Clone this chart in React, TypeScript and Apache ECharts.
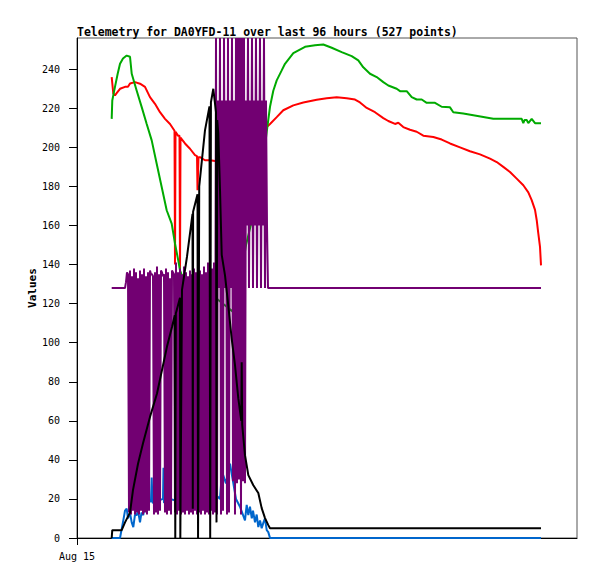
import React, { useEffect, useRef } from "react";
import * as echarts from "echarts";

// Time in hours since Aug 15 00:00
const X_MAX_HOURS = 111.11;
const Y_TICKS = [0, 20, 40, 60, 80, 100, 120, 140, 160, 180, 200, 220, 240];
const X_TICKS = [0];
const X_TICK_LABEL = "Aug 15";
const TITLE = "Telemetry for DA0YFD-11 over last 96 hours (527 points)";

const red: [number, number][] = [
  [7.71, 236], [8.07, 227.5], [8.44, 226.6], [8.89, 228], [9.56, 230], [10.67, 231],
  [11.33, 231], [11.78, 232.7], [12.89, 233.4], [14.0, 232.6], [15.11, 231], [16.22, 225.7],
  [17.33, 222.3], [18.44, 218], [19.56, 214.6], [20.67, 212], [21.67, 208.5], [21.78, 140],
  [21.89, 208], [22.44, 206], [22.78, 206], [22.89, 136], [23.0, 205], [24.0, 202],
  [25.11, 199.3], [26.22, 196], [26.67, 195.5], [26.78, 178], [27.0, 195], [27.33, 195],
  [28.44, 193.4], [29.56, 193.4], [30.67, 193], [36.22, 195], [39.56, 202], [42.16, 210.4],
  [42.89, 212], [44.38, 215.5], [45.84, 219], [48.07, 221.5], [50.29, 223], [53.27, 224.4],
  [55.49, 225.2], [57.71, 225.7], [59.93, 225.2], [61.78, 224.5], [62.89, 223], [64.38, 220.2],
  [66.22, 218], [68.07, 215], [69.18, 213.5], [70.67, 212], [71.4, 212.6], [72.51, 210.4],
  [74.0, 209], [75.49, 208], [76.96, 206], [79.18, 205.3], [81.04, 204], [82.89, 202],
  [85.11, 200], [87.33, 198], [89.56, 196.4], [91.78, 194.2], [93.27, 192.5], [94.73, 190],
  [96.22, 187.4], [97.71, 184], [99.18, 180.6], [100.29, 177], [101.04, 173], [101.78, 168],
  [102.16, 162.7], [102.51, 156], [102.89, 149], [103.11, 139.6],
];

const green: [number, number][] = [
  [7.71, 214.6], [7.84, 224], [8.44, 231], [9.04, 237.7], [9.56, 242.8], [10.22, 245.5],
  [11.04, 247], [11.78, 246.4], [12.16, 237.7], [13.27, 229], [14.38, 220.6], [15.49, 212],
  [16.6, 203.6], [17.71, 191.6], [18.82, 179.7], [19.93, 167.8], [21.04, 161], [21.78, 150.7],
  [22.51, 142], [22.89, 137], [24.0, 130], [26.22, 127], [27.11, 127], [27.22, 75],
  [27.44, 127], [31.33, 122], [35.11, 115], [37.56, 150], [40.67, 180], [42.16, 207.9],
  [42.89, 220.8], [43.62, 229], [44.38, 234.3], [45.49, 239.4], [46.22, 242.8], [48.07, 248.3],
  [50.67, 251.5], [52.89, 252.3], [54.73, 252.7], [56.6, 251], [58.82, 248.8], [61.04, 246.7],
  [62.51, 244.5], [63.62, 241], [65.11, 237.7], [66.6, 236], [68.07, 233.4], [69.18, 231.7],
  [71.04, 230], [71.78, 228.8], [73.27, 228.8], [74.38, 225.7], [75.49, 224.5], [76.6, 224.5],
  [77.71, 222.8], [79.56, 222.8], [81.04, 220.8], [82.89, 220.5], [83.62, 218], [85.84, 217.3],
  [88.07, 216.4], [90.29, 215.5], [92.51, 214.6], [95.49, 214.6], [98.82, 214.6], [99.18, 212.4],
  [99.44, 214], [99.93, 214], [100.29, 212.4], [101.04, 214.6], [101.78, 212.4], [103.11, 212.4],
];

const blue: [number, number][] = [
  [7.71, 0], [9.56, 0], [10.29, 9], [10.67, 14], [11.04, 15], [11.33, 10], [11.78, 12.7],
  [12.16, 8], [12.51, 5.6], [12.89, 12], [13.27, 11.7], [13.56, 14], [14.0, 8], [14.33, 13],
  [14.73, 11.7], [15.11, 17], [15.78, 18], [16.44, 19], [16.6, 31], [16.78, 18], [17.98, 19],
  [19.11, 20], [19.22, 36], [19.33, 18], [20.67, 20], [22.22, 19], [22.38, 49], [22.51, 18],
  [24.0, 19], [26.22, 20], [26.29, 32], [26.44, 18], [27.22, 19], [27.29, 70], [27.4, 18],
  [29.56, 19], [30.0, 24], [31.78, 20], [32.22, 34], [33.11, 28], [34.0, 38], [35.33, 20],
  [36.22, 16], [37.33, 9], [37.71, 17], [38.07, 11.7], [38.44, 16], [38.84, 10], [39.11, 14],
  [39.56, 8], [39.93, 12], [40.29, 5.6], [40.67, 9], [41.04, 5], [41.44, 8], [41.78, 10],
  [42.16, 4], [42.51, 3], [42.89, 0], [103.11, 0],
];

const black: [number, number][] = [
  [7.71, 0], [7.84, 4], [9.93, 4], [10.67, 8], [11.78, 13], [12.44, 24.5], [13.56, 38],
  [14.67, 48.5], [16.22, 62], [17.78, 74], [18.89, 86], [20.0, 98], [21.11, 108], [21.73, 114],
  [21.84, 0], [21.96, 115], [22.89, 123], [22.96, 0], [23.1, 0], [23.33, 127], [24.44, 144],
  [25.67, 166], [25.73, 15], [25.8, 167], [26.78, 176], [26.9, 0], [27.16, 180], [28.44, 208.7],
  [29.44, 221], [29.6, 0], [29.76, 223], [30.29, 230], [30.89, 218], [31.0, 8], [31.16, 214],
  [31.4, 207], [31.78, 178], [32.16, 145], [32.89, 134.5], [33.62, 119], [34.38, 102],
  [35.11, 88.5], [35.84, 71.6], [36.51, 60], [36.6, 90], [36.71, 58], [37.33, 42.4],
  [38.07, 32.2], [39.18, 27], [40.29, 23], [41.04, 15.3], [41.78, 10.2], [42.51, 6.6],
  [42.89, 5], [103.11, 5],
];

// Purple channel: flat 128 before and after the oscillating section
const purpleHead: [number, number] = [7.71, 128];
const purpleTail: [number, number] = [103.11, 128];
const purpleStartHour = 10.667;
const purpleStepHour = 0.2222;
const purpleValues = [
  128, 131, 136, 135, 13, 137, 12, 134, 14, 138, 12, 136, 13, 133, 12, 137, 14, 135, 12, 138,
  13, 134, 12, 136, 14, 137, 135, 135, 134, 12, 136, 13, 139, 12, 135, 14, 137, 136, 134, 135,
  13, 138, 12, 136, 14, 133, 12, 137, 136, 135, 13, 141, 12, 136, 14, 138, 12, 135, 13, 139,
  12, 136, 14, 134, 12, 137, 13, 135, 12, 138, 14, 136, 12, 140, 13, 137, 12, 135, 14, 139,
  12, 136, 13, 141, 12, 137, 14, 138, 12, 141, 13, 256, 12, 224, 128, 256, 12, 224, 14, 256,
  128, 224, 12, 256, 13, 224, 128, 256, 29, 224, 12, 256, 28, 256, 30, 256, 12, 256, 29, 256,
  28, 224, 160, 256, 128, 224, 160, 256, 128, 224, 160, 256, 128, 224, 160, 256, 128, 224, 160, 256,
  128, 224, 160, 128,
];

const COLORS = {
  red: "#ff0000",
  green: "#00aa00",
  blue: "#0066cc",
  black: "#000000",
  purple: "#720072",
};

const MONO = "'DejaVu Sans Mono', 'Liberation Mono', monospace";

export default function App() {
  const ref = useRef<HTMLDivElement>(null);
  useEffect(() => {
    if (!ref.current) return;
    const chart = echarts.init(ref.current, null, { renderer: "svg" });
    const purple: [number, number][] = [
      purpleHead,
      ...purpleValues.map((v, i) => [purpleStartHour + i * purpleStepHour, v] as [number, number]),
      purpleTail,
    ];
    const line = (name: string, data: [number, number][], color: string) => ({
      name,
      type: "line",
      data,
      showSymbol: false,
      symbol: "none",
      color,
      lineStyle: { color, width: 2 },
      emphasis: { disabled: true },
    });
    chart.setOption({
      animation: false,
      backgroundColor: "#ffffff",
      title: {
        text: TITLE,
        left: 77,
        top: 26,
        padding: 0,
        textStyle: { fontFamily: MONO, fontSize: 11.5, fontWeight: "bold", color: "#000" },
      },
      grid: {
        left: 77,
        top: 38,
        width: 500,
        height: 500,
        show: true,
        borderColor: "#555555",
        borderWidth: 1,
        backgroundColor: "transparent",
      },
      xAxis: {
        type: "value",
        min: 0,
        max: X_MAX_HOURS,
        axisLine: { show: true, onZero: false, lineStyle: { color: "#000", width: 1 } },
        axisTick: { show: true, length: 7, customValues: X_TICKS, lineStyle: { color: "#000" } },
        axisLabel: {
          customValues: X_TICKS,
          formatter: () => X_TICK_LABEL,
          margin: 13,
          fontFamily: MONO,
          fontSize: 10,
          color: "#000",
        },
        splitLine: { show: false },
      },
      yAxis: {
        type: "value",
        min: 0,
        max: 256,
        name: "Values",
        nameLocation: "middle",
        nameGap: 39,
        nameMoveOverlap: false,
        nameTextStyle: { fontFamily: MONO, fontSize: 11, fontWeight: "bold", color: "#000" },
        axisLine: { show: true, onZero: false, lineStyle: { color: "#000", width: 1 } },
        axisTick: { show: true, length: 8, customValues: Y_TICKS, lineStyle: { color: "#000" } },
        axisLabel: {
          customValues: Y_TICKS,
          margin: 17,
          fontFamily: MONO,
          fontSize: 10,
          color: "#000",
        },
        splitLine: { show: false },
      },
      series: [
        line("red", red, COLORS.red),
        line("green", green, COLORS.green),
        line("blue", blue, COLORS.blue),
        line("purple", purple, COLORS.purple),
        line("black", black, COLORS.black),
      ],
    });
    return () => chart.dispose();
  }, []);
  return (
    <div
      ref={ref}
      style={{ position: "fixed", left: 0, top: 0, width: 597, height: 579, background: "#fff" }}
    />
  );
}
